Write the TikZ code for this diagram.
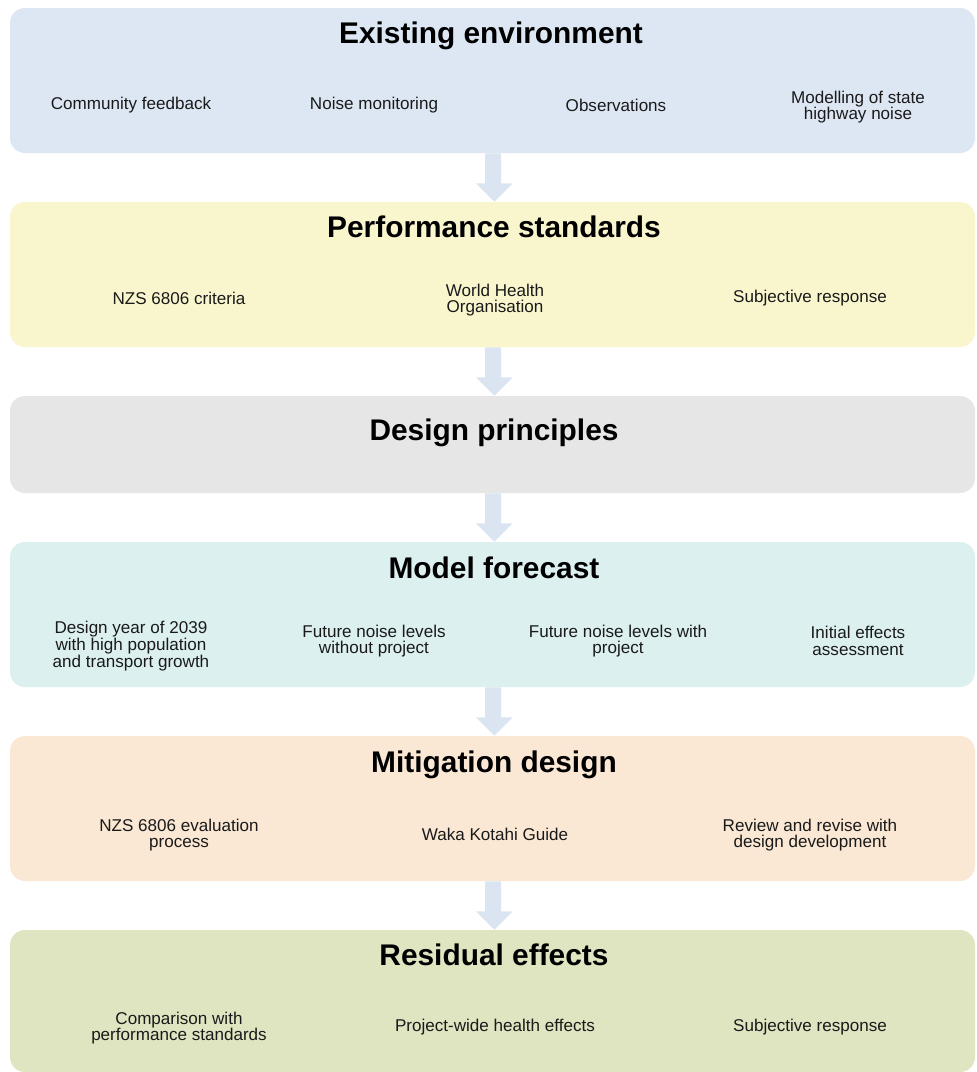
\documentclass[tikz,border=0pt]{standalone}
\usepackage{fontspec}
\setmainfont{Liberation Sans}
\usetikzlibrary{calc}
\definecolor{cA}{HTML}{DDE7F3}
\definecolor{cB}{HTML}{F9F6CE}
\definecolor{cC}{HTML}{E6E6E6}
\definecolor{cD}{HTML}{DCF0EF}
\definecolor{cE}{HTML}{FAE8D4}
\definecolor{cF}{HTML}{DFE4C1}
\definecolor{arr}{HTML}{DBE5F1}
\definecolor{txt}{HTML}{1A1A1A}
\newcommand{\itmfont}{\fontsize{12.8pt}{12.6pt}\selectfont\setlength{\lineskiplimit}{-20pt}\relax}
\tikzset{
  box/.style={rectangle, rounded corners=11.25pt, inner sep=0pt, minimum width=723.75pt},
  ttl/.style={font=\fontsize{22.4pt}{26pt}\selectfont\bfseries, text=black, inner sep=0pt, anchor=base},
  itm/.style={font=\itmfont, text=txt, align=center, inner sep=0pt},
}
\newcommand{\fatarrow}[2]{%
  \fill[arr] ($(#1.south)+(-5.5pt,0)$) -- ($(#1.south)+(6.5pt,0)$) -- ($(#1.south)+(6.5pt,-22.5pt)$) -- ($(#1.south)+(15.25pt,-22.5pt)$) -- ($(#2.north)+(1.5pt,0)$) -- ($(#1.south)+(-12.5pt,-22.5pt)$) -- ($(#1.south)+(-5.5pt,-22.5pt)$) -- cycle;}
\begin{document}
\begin{tikzpicture}[x=0.75pt,y=-0.75pt]
\useasboundingbox (0,0) rectangle (976,1072);
% boxes
\node[box, fill=cA, minimum height=108.75pt] (b1) at (492.5,80.5) {};
\node[box, fill=cB, minimum height=108.75pt] (b2) at (492.5,274.5) {};
\node[box, fill=cC, minimum height=72.75pt] (b3) at (492.5,444.5) {};
\node[box, fill=cD, minimum height=108.75pt] (b4) at (492.5,614.5) {};
\node[box, fill=cE, minimum height=108.75pt] (b5) at (492.5,808.5) {};
\node[box, fill=cF, minimum height=106.5pt] (b6) at (492.5,1001) {};
% arrows
\fatarrow{b1}{b2}
\fatarrow{b2}{b3}
\fatarrow{b3}{b4}
\fatarrow{b4}{b5}
\fatarrow{b5}{b6}
% titles
\node[ttl] (t1) at (491,43) {Existing environment};
\node[ttl] (t2) at (494,237) {Performance standards};
\node[ttl] (t3) at (494,440) {Design principles};
\node[ttl] (t4) at (494,578) {Model forecast};
\node[ttl] (t5) at (494,772) {Mitigation design};
\node[ttl] (t6) at (494,965) {Residual effects};
% items
\node[itm] (i11) at (131,105) {Community feedback};
\node[itm] (i12) at (374,105) {Noise monitoring};
\node[itm] (i13) at (616,105) {Observations};
\node[itm] (i14) at (858,107) {Modelling of state\\highway noise};
\node[itm] (i21) at (179,298) {NZS 6806 criteria};
\node[itm] (i22) at (495,300) {World Health\\Organisation};
\node[itm] (i23) at (810,298) {Subjective response};
\node[itm] (i41) at (131,646) {Design year of 2039\\with high population\\and transport growth};
\node[itm] (i42) at (374,641) {Future noise levels\\without project};
\node[itm] (i43) at (618,641) {Future noise levels with\\project};
\node[itm] (i44) at (858,641) {Initial effects\\assessment};
\node[itm] (i51) at (179,835) {NZS 6806 evaluation\\process};
\node[itm] (i52) at (495,834) {Waka Kotahi Guide};
\node[itm] (i53) at (810,835) {Review and revise with\\design development};
\node[itm] (i61) at (179,1028) {Comparison with\\performance standards};
\node[itm] (i62) at (495,1027) {Project-wide health effects};
\node[itm] (i63) at (810,1027) {Subjective response};
\end{tikzpicture}
\end{document}
